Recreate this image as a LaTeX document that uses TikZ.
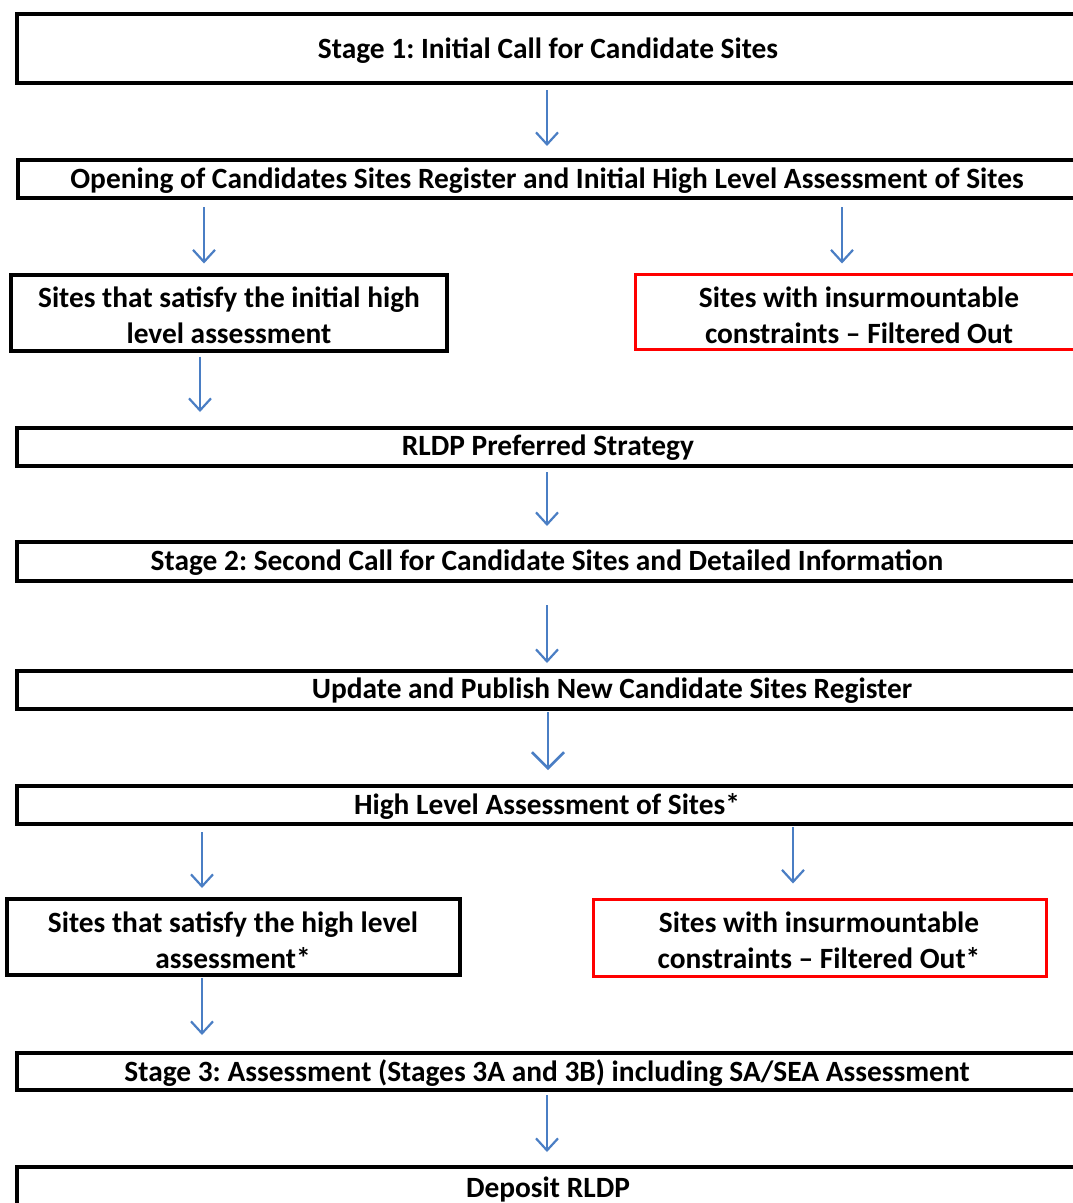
\documentclass[tikz,border=0pt]{standalone}
\usepackage{fontspec}
\setmainfont{Carlito}
\usetikzlibrary{arrows.meta,calc}
\definecolor{arrblue}{RGB}{74,126,196}
\definecolor{boxred}{RGB}{255,0,0}
\tikzset{
  wbox/.style={draw=black,line width=4pt,inner sep=0pt,outer sep=0pt,anchor=north west},
  rbox/.style={draw=boxred,line width=3pt,inner sep=0pt,outer sep=0pt,anchor=north west},
  txt/.style={font=\fontsize{29.4}{36}\selectfont\bfseries\frenchspacing,align=center,inner sep=0pt},
  arr/.style={draw=arrblue,line width=2.2pt,-{Straight Barb[length=12pt,width=22pt,line width=2.2pt]}},
  bigarr/.style={draw=arrblue,line width=2.6pt,-{Straight Barb[length=16pt,width=32pt,line width=2.6pt]}}
}
\begin{document}
\begin{tikzpicture}[x=1pt,y=-1pt]
\useasboundingbox (0,0) rectangle (1073,1203);
\clip (0,0) rectangle (1073,1203);
% boxes
\node[wbox,minimum width=1100pt,minimum height=69pt] (b1) at (17,14) {};
\node[wbox,minimum width=1100pt,minimum height=38pt] (b2) at (18,160) {};
\node[wbox,minimum width=436pt,minimum height=76pt] (b3) at (11,274.5) {};
\node[rbox,minimum width=500pt,minimum height=74.5pt] (b4) at (635,274.5) {};
\node[wbox,minimum width=1100pt,minimum height=38pt] (b5) at (17,428) {};
\node[wbox,minimum width=1100pt,minimum height=39pt] (b6) at (17,542) {};
\node[wbox,minimum width=1100pt,minimum height=38pt] (b7) at (17,671) {};
\node[wbox,minimum width=1100pt,minimum height=38pt] (b8) at (17,786) {};
\node[wbox,minimum width=453pt,minimum height=76pt] (b9) at (7,899) {};
\node[rbox,minimum width=453pt,minimum height=76.5pt] (b10) at (593,899.5) {};
\node[wbox,minimum width=1100pt,minimum height=37pt] (b11) at (17,1053) {};
\node[wbox,minimum width=1100pt,minimum height=60pt] (b12) at (17,1167) {};
% texts
\node[txt] (t1) at (548,51) {Stage 1: Initial Call for Candidate Sites};
\node[txt] (t2) at (547,181) {Opening of Candidates Sites Register and Initial High Level Assessment of Sites};
\node[txt] (t3) at (229,315) {Sites that satisfy the initial high\\level assessment};
\node[txt] (t4) at (859,315) {Sites with insurmountable\\constraints -- Filtered Out};
\node[txt] (t5) at (548,448) {RLDP Preferred Strategy};
\node[txt] (t6) at (547,563) {Stage 2: Second Call for Candidate Sites and Detailed Information};
\node[txt] (t7) at (612,691) {Update and Publish New Candidate Sites Register};
\node[txt] (t8) at (547,806) {High Level Assessment of Sites*};
\node[txt] (t9) at (233,940) {Sites that satisfy the high level\\assessment*};
\node[txt] (t10) at (819,940) {Sites with insurmountable\\constraints -- Filtered Out*};
\node[txt] (t11) at (547,1073) {Stage 3: Assessment (Stages 3A and 3B) including SA/SEA Assessment};
\node[txt] (t12) at (548,1189) {Deposit RLDP};
% arrows
\draw[arr] ($(b1.south west -| 547,0)+(0,7)$) -- ($(b2.north west -| 547,0)+(0,-14)$);
\draw[arr] ($(b2.south west -| 204,0)+(0,9)$) -- ($(b3.north west -| 204,0)+(0,-11)$);
\draw[arr] ($(b2.south west -| 842,0)+(0,9)$) -- ($(b4.north west -| 842,0)+(0,-11)$);
\draw[arr] ($(b3.south west -| 200,0)+(0,6)$) -- ($(b5.north west -| 200,0)+(0,-16)$);
\draw[arr] ($(b5.south west -| 547,0)+(0,6)$) -- ($(b6.north west -| 547,0)+(0,-16)$);
\draw[arr] ($(b6.south west -| 547,0)+(0,24)$) -- ($(b7.north west -| 547,0)+(0,-8)$);
\draw[bigarr] ($(b7.south west -| 548,0)+(0,3)$) -- ($(b8.north west -| 548,0)+(0,-16)$);
\draw[arr] ($(b8.south west -| 202,0)+(0,8)$) -- ($(b9.north west -| 202,0)+(0,-11)$);
\draw[arr] ($(b8.south west -| 793,0)+(0,3)$) -- ($(b10.north west -| 793,0)+(0,-16)$);
\draw[arr] ($(b9.south west -| 202,0)+(0,3)$) -- ($(b11.north west -| 202,0)+(0,-18)$);
\draw[arr] ($(b11.south west -| 547,0)+(0,5)$) -- ($(b12.north west -| 547,0)+(0,-15)$);
\end{tikzpicture}
\end{document}
